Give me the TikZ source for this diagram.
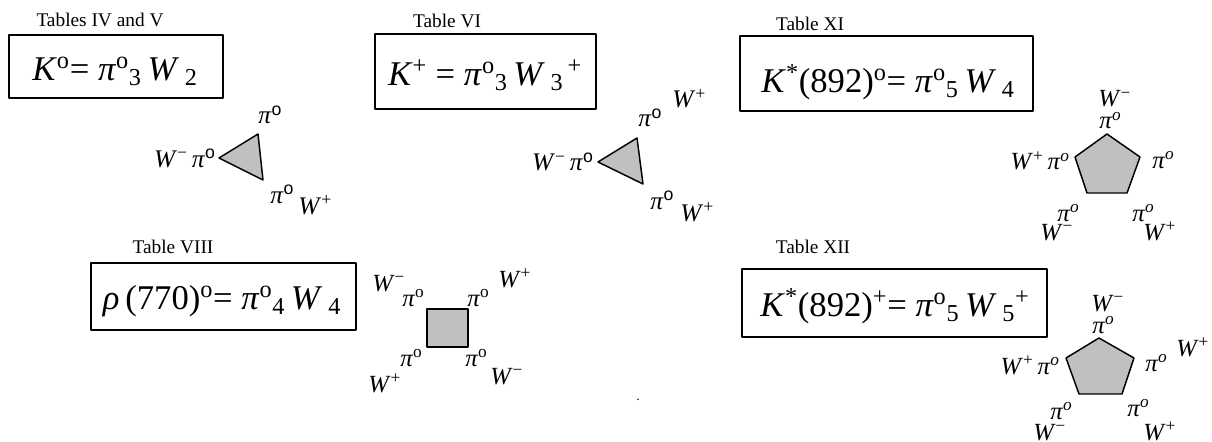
\documentclass[tikz,border=0pt]{standalone}
\usepackage{fontspec}
\setmainfont{Liberation Serif}
\newfontfamily\sansf{Liberation Sans}
\definecolor{shade}{HTML}{C0C0C0}
\newcommand{\up}[1]{\textsuperscript{#1}}
\newcommand{\dn}[1]{\textsubscript{#1}}
\newcommand{\Wm}{\textit{W}\up{−}}
\newcommand{\Wp}{\textit{W}\up{+}}
\newcommand{\pis}{\textit{π}\up{\sansf o}}
\newcommand{\pir}{\textit{π}\up{o}}
\newcommand{\pii}{\textit{π}\up{\textit{o}}}
\begin{document}
\begin{tikzpicture}[x=0.75pt, y=-0.75pt, line join=round, line cap=round,
  tabcap/.style={anchor=base, inner sep=0pt, font=\fontsize{14.5}{16}\selectfont},
  eqn/.style={inner sep=0pt, font=\fontsize{26}{30}\selectfont},
  eqframe/.style={line width=1.5pt},
  lbl/.style={anchor=base west, inner sep=0pt, font=\fontsize{19}{22}\selectfont},
  lblr/.style={lbl, anchor=base east},
  slbl/.style={lbl, font=\fontsize{18.5}{21}\selectfont},
  slblr/.style={slbl, anchor=base east},
  face/.style={fill=shade, draw=black, line width=1.1pt}]
\useasboundingbox (0,0) rectangle (1212,442);
% Tables IV and V
\node[tabcap] (capA) at (100,27) {Tables IV and V};
\draw[eqframe] (9,35) rectangle (223,98);
\node[eqn] (eqA) at (115,71) {\textit{K}\up{o}= \textit{π}\up{o}\dn{3}\,\textit{W}\,\dn{2}};
\filldraw[face] (219,158) -- (258,134) -- (263,180) -- cycle;
\node[lblr] (aL) at (216,167) {\Wm\,\pis};
\node[lbl] (aT) at (258,124) {\pis};
\node[lbl] (aB) at (270,203) {\pis};
\node[lbl] (aBW) at (298,214) {\Wp};
% Table VI
\node[tabcap] (capB) at (447,28) {Table VI};
\draw[eqframe] (375,34) rectangle (596,109);
\node[eqn] (eqB) at (485,75) {\textit{K}\up{+} = \textit{π}\up{o}\dn{3}\,\textit{W}\,\dn{3}\up{\,+}};
\filldraw[face] (598,162) -- (637,138) -- (643,184) -- cycle;
\node[lblr] (bL) at (594,171) {\Wm\,\pis};
\node[lbl] (bT) at (638,127) {\pis};
\node[lbl] (bTW) at (672,108) {\Wp};
\node[lbl] (bB) at (650,209) {\pis};
\node[lbl] (bBW) at (680,221) {\Wp};
% Table XI
\node[tabcap] (capC) at (810,31) {Table XI};
\draw[eqframe] (740,36) rectangle (1033,111);
\node[eqn] (eqC) at (888,82) {\textit{K}\up{*}(892)\up{o}= \textit{π}\up{o}\dn{5}\,\textit{W}\,\dn{4}};
\filldraw[face] (1107,134) -- (1140,157) -- (1127,193) -- (1087,193) -- (1075,157) -- cycle;
\node[slbl] (cTW) at (1098,107) {\Wm};
\node[slbl] (cT) at (1099,129) {\pii};
\node[slblr] (cL) at (1070,170) {\Wp\,\pii};
\node[slbl] (cR) at (1152,168) {\pii};
\node[slbl] (cBL) at (1057,221) {\pii};
\node[slbl] (cBLW) at (1040,240) {\Wm};
\node[slbl] (cBR) at (1132,221) {\pii};
\node[slbl] (cBRW) at (1143,240) {\Wp};
% Table VIII
\node[tabcap] (capD) at (173,253) {Table VIII};
\draw[eqframe] (91,263) rectangle (356,330);
\node[eqn] (eqD) at (222,301) {\textit{ρ}\,(770)\up{o}= \textit{π}\up{o}\dn{4}\,\textit{W}\,\dn{4}};
\filldraw[face] (427,309) rectangle (468,347);
\node[slbl] (dTLW) at (372,291) {\Wm};
\node[slbl] (dTL) at (402,306) {\pir};
\node[slbl] (dTR) at (467,306) {\pir};
\node[slbl] (dTRW) at (498,287) {\Wp};
\node[slbl] (dBL) at (400,366) {\pir};
\node[slbl] (dBLW) at (368,392) {\Wp};
\node[slbl] (dBR) at (465,366) {\pir};
\node[slbl] (dBRW) at (490,384) {\Wm};
\node[anchor=base, inner sep=0pt, font=\fontsize{10}{12}\selectfont] (dot) at (638,400) {.};
% Table XII
\node[tabcap] (capE) at (813,253) {Table XII};
\draw[eqframe] (742,269) rectangle (1047,337);
\node[eqn] (eqE) at (895,306) {\textit{K}\up{*}(892)\up{+}= \textit{π}\up{o}\dn{5}\,\textit{W}\,\dn{5}\up{+}};
\filldraw[face] (1099,338) -- (1134,358) -- (1122,394) -- (1079,394) -- (1066,358) -- cycle;
\node[slbl] (eTW) at (1091,311) {\Wm};
\node[slbl] (eT) at (1092,333) {\pii};
\node[slblr] (eL) at (1060,374) {\Wp\,\pii};
\node[slbl] (eR) at (1145,371) {\pii};
\node[slbl] (eRW) at (1176,356) {\Wp};
\node[slbl] (eBL) at (1050,419) {\pii};
\node[slbl] (eBLW) at (1033,440) {\Wm};
\node[slbl] (eBR) at (1127,416) {\pii};
\node[slbl] (eBRW) at (1143,440) {\Wp};
\end{tikzpicture}
\end{document}
